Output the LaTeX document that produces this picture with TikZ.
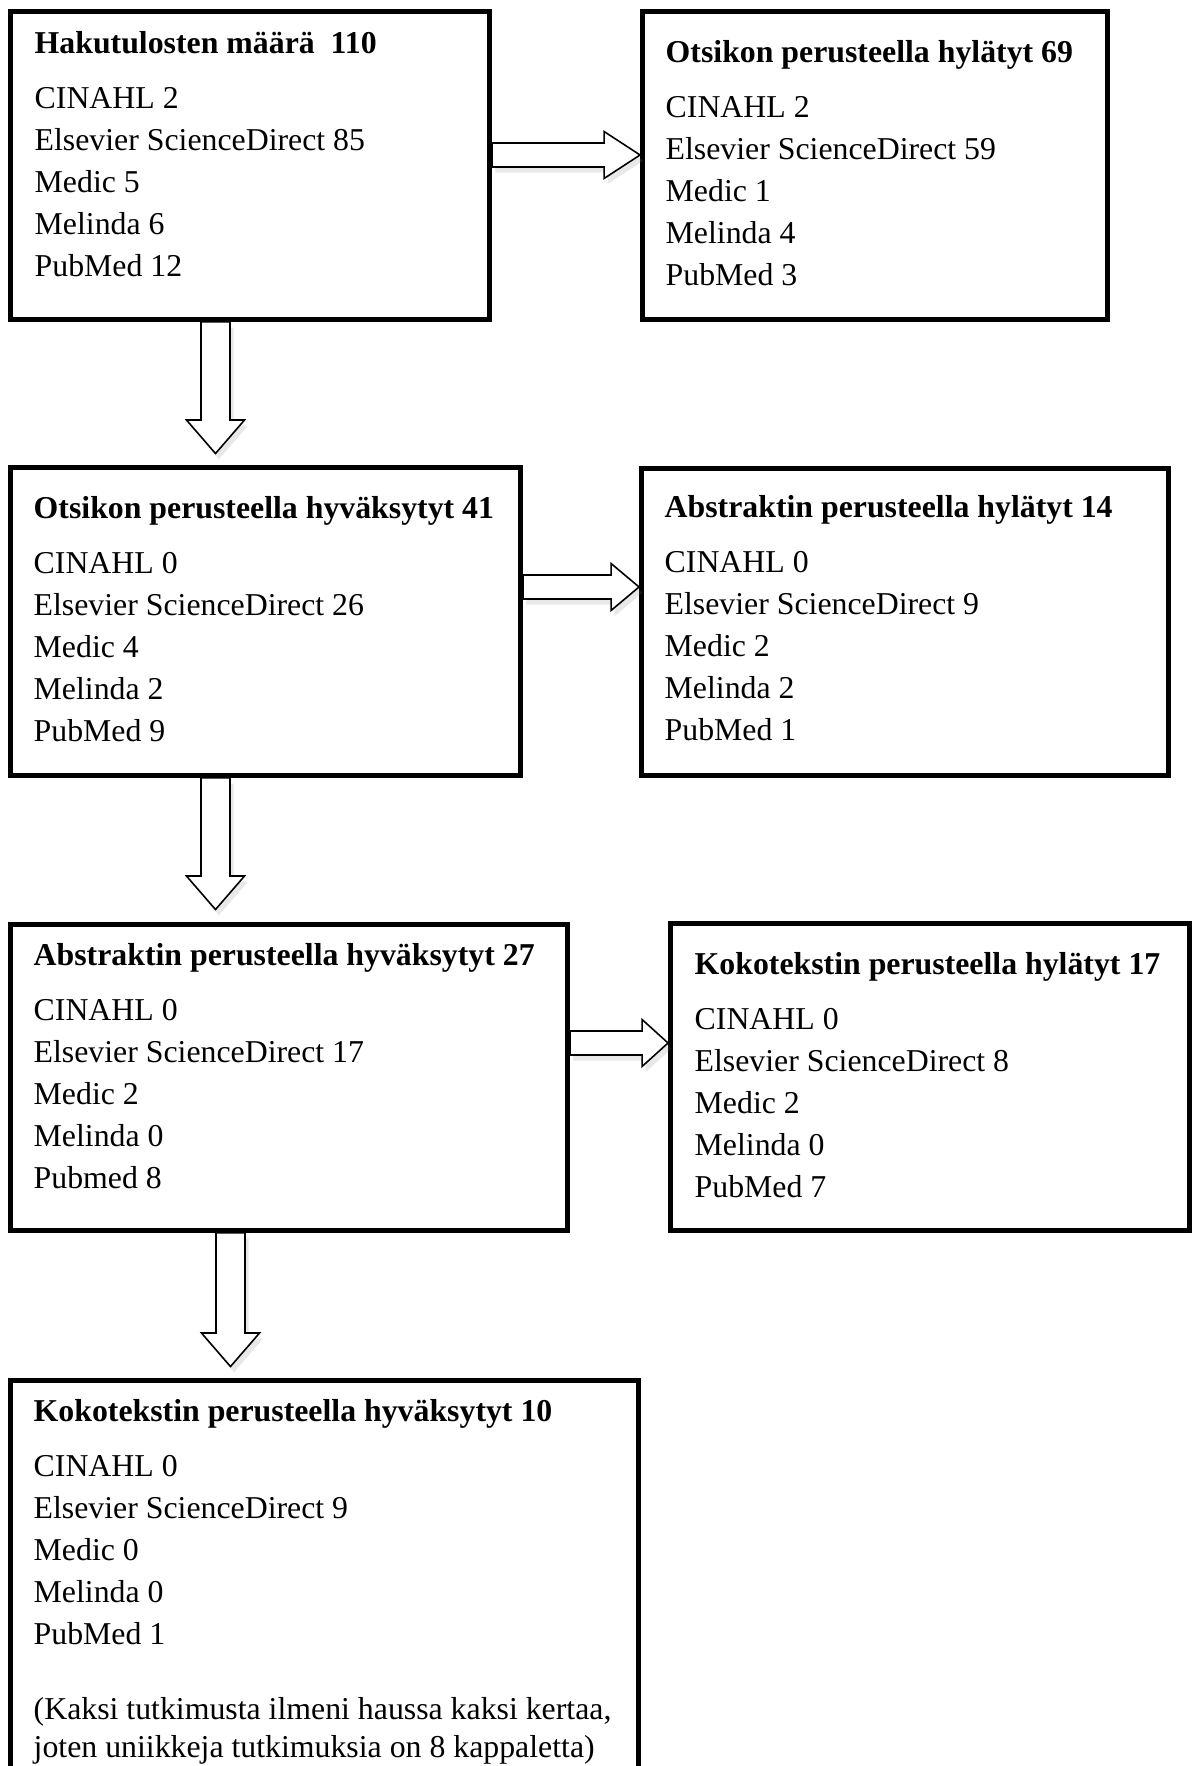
\documentclass[tikz,border=0pt]{standalone}
\usepackage{fontspec}
\setmainfont{Liberation Serif}
\usetikzlibrary{calc,shadows}
\tikzset{
  box/.style={draw, rectangle, line width=1.4pt, inner sep=0pt},
  list/.style={align=left, anchor=base west, inner sep=0pt, font=\fontsize{9.05}{11.95}\selectfont},
  barrow/.style={draw, fill=white, line width=0.45pt, miter limit=10,
    drop shadow={shadow xshift=1pt, shadow yshift=-1.6pt, opacity=0.18, draw=none}},
  rightarrow/.style={barrow, to path={let \p1=(\tikztostart), \p2=(\tikztotarget) in
    (\x1,{\y1+0.12cm}) -- ({\x2-#1},{\y1+0.12cm}) -- ({\x2-#1},{\y1+0.235cm}) -- (\x2,\y1)
    -- ({\x2-#1},{\y1-0.235cm}) -- ({\x2-#1},{\y1-0.12cm}) -- (\x1,{\y1-0.12cm}) -- cycle}},
  rightarrow/.default=0.3cm,
  downarrow/.style={barrow, to path={let \p1=(\tikztostart), \p2=(\tikztotarget) in
    ({\x1-0.145cm},\y1) -- ({\x1-0.145cm},{\y2+#1}) -- ({\x1-0.29cm},{\y2+#1}) -- (\x1,\y2)
    -- ({\x1+0.29cm},{\y2+#1}) -- ({\x1+0.145cm},{\y2+#1}) -- ({\x1+0.145cm},\y1) -- cycle}},
  downarrow/.default=0.335cm,
}
\begin{document}
\begin{tikzpicture}
\useasboundingbox (0,0) rectangle (11.95,17.66);
\clip (0,0) rectangle (11.95,17.66);
% boxes
\node[box, minimum width=4.79cm, minimum height=3.08cm] (b1) at (2.50,16.005) {};
\node[box, minimum width=4.65cm, minimum height=3.08cm] (b2) at (8.75,16.005) {};
\node[box, minimum width=5.10cm, minimum height=3.08cm] (b3) at (2.655,11.445) {};
\node[box, minimum width=5.27cm, minimum height=3.07cm] (b4) at (9.05,11.44) {};
\node[box, minimum width=5.57cm, minimum height=3.06cm] (b5) at (2.89,6.885) {};
\node[box, minimum width=5.19cm, minimum height=3.07cm] (b6) at (9.30,6.89) {};
\node[box, minimum width=6.28cm, minimum height=4.50cm] (b7) at (3.245,1.605) {};
% texts (placed at the baseline of the last line)
\node[list] (t1) at (0.34,14.89) {\textbf{Hakutulosten määrä\ \ 110}\\[3.98pt]
  CINAHL 2\\ Elsevier ScienceDirect 85\\ Medic 5\\ Melinda 6\\ PubMed 12};
\node[list] (t2) at (6.65,14.80) {\textbf{Otsikon perusteella hylätyt 69}\\[3.98pt]
  CINAHL 2\\ Elsevier ScienceDirect 59\\ Medic 1\\ Melinda 4\\ PubMed 3};
\node[list] (t3) at (0.33,10.24) {\textbf{Otsikon perusteella hyväksytyt 41}\\[3.98pt]
  CINAHL 0\\ Elsevier ScienceDirect 26\\ Medic 4\\ Melinda 2\\ PubMed 9};
\node[list] (t4) at (6.64,10.25) {\textbf{Abstraktin perusteella hylätyt 14}\\[3.98pt]
  CINAHL 0\\ Elsevier ScienceDirect 9\\ Medic 2\\ Melinda 2\\ PubMed 1};
\node[list] (t5) at (0.33,5.77) {\textbf{Abstraktin perusteella hyväksytyt 27}\\[3.98pt]
  CINAHL 0\\ Elsevier ScienceDirect 17\\ Medic 2\\ Melinda 0\\ Pubmed 8};
\node[list] (t6) at (6.94,5.68) {\textbf{Kokotekstin perusteella hylätyt 17}\\[3.98pt]
  CINAHL 0\\ Elsevier ScienceDirect 8\\ Medic 2\\ Melinda 0\\ PubMed 7};
\node[list] (t7) at (0.33,0.09) {\textbf{Kokotekstin perusteella hyväksytyt 10}\\[3.98pt]
  CINAHL 0\\ Elsevier ScienceDirect 9\\ Medic 0\\ Melinda 0\\ PubMed 1\\[9.39pt]
  (Kaksi tutkimusta ilmeni haussa kaksi kertaa,\\[-1.42pt]
  joten uniikkeja tutkimuksia on 8 kappaletta)};
% arrows
\draw[rightarrow=0.36cm] ($(b1.east)+(0,0.105)$) to ($(b2.west)+(0,0.105)$);
\draw[rightarrow=0.28cm] ($(b3.east)+(0,0.345)$) to ($(b4.west)+(0,0.345)$);
\draw[rightarrow=0.26cm] ($(b5.east)+(0,0.345)$) to ($(b6.west)+(0,0.345)$);
\draw[downarrow] ($(b1.south)+(-0.345,0)$) to ($(b3.north)+(0,0.115)$);
\draw[downarrow] ($(b3.south)+(-0.50,0)$) to ($(b5.north)+(0,0.125)$);
\draw[downarrow] ($(b5.south)+(-0.585,0)$) to ($(b7.north)+(0,0.115)$);
\end{tikzpicture}
\end{document}
